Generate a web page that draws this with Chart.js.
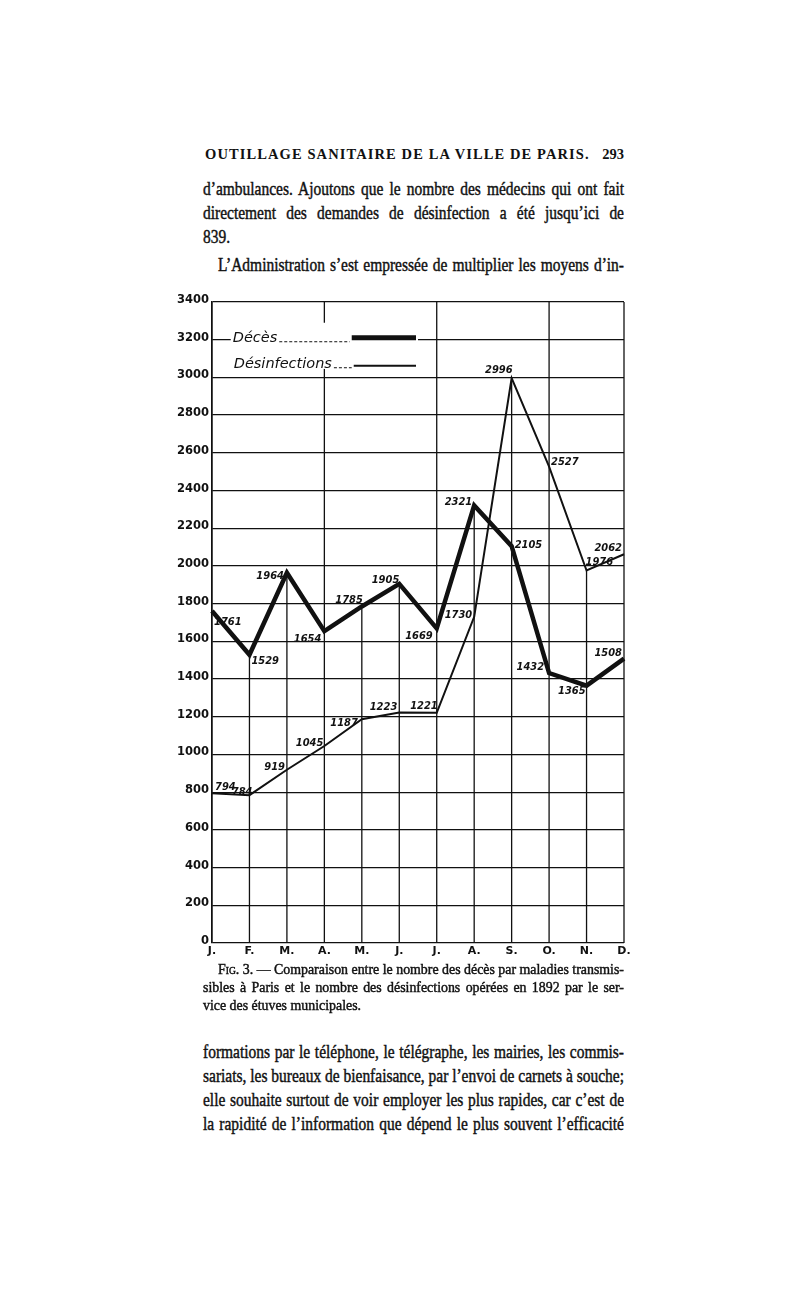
<!DOCTYPE html>
<html>
<head>
<meta charset="utf-8">
<script src="https://cdn.jsdelivr.net/npm/chart.js@4.4.0/dist/chart.umd.min.js"></script>
<style>
    body {
        margin: 0;
        background: #fff;
        width: 800px;
        height: 1304px;
        position: relative;
        overflow: hidden;
        color: #111;
    }
    .ln, .cap {
        position: absolute;
        left: 203px;
        font-family: "Liberation Serif", "DejaVu Serif", serif;
        white-space: nowrap;
        transform-origin: 0 0;
    }
    .ln {
        font-size: 19px;
        -webkit-text-stroke: 0.45px #111;
    }
    .cap {
        font-size: 14.5px;
        -webkit-text-stroke: 0.45px #111;
    }
    .head {
        position: absolute;
        top: 146px;
        left: 203px;
        width: 421px;
        font-family: "Liberation Serif", serif;
        font-weight: bold;
        font-size: 14.5px;
    }
    .head .t { position: absolute; left: 2px; letter-spacing: 1.1px; }
    .head .p { position: absolute; right: 0; }
    #chart-box {
        position: absolute;
        left: 150px;
        top: 290px;
        width: 490px;
        height: 680px;
    }
</style>
</head>
<body>
<div class="head"><span class="t">OUTILLAGE SANITAIRE DE LA VILLE DE PARIS.</span><span class="p">293</span></div>
<div class="ln" data-w="421" style="top:178px">d’ambulances. Ajoutons que le nombre des médecins qui ont fait</div>
<div class="ln" data-w="421" style="top:202px">directement des demandes de désinfection a été jusqu’ici de</div>
<div class="ln" data-last="1" style="top:226px">839.</div>
<div class="ln" data-w="406" style="top:254px; left:218px">L’Administration s’est empressée de multiplier les moyens d’in-</div>

<div id="chart-box"><canvas id="fig3" width="490" height="680"></canvas></div>

<div class="cap" data-w="406" style="top:961px; left:218px"><span style="font-variant:small-caps">Fig</span>. 3. — Comparaison entre le nombre des décès par maladies transmis-</div>
<div class="cap" data-w="421" style="top:979px">sibles à Paris et le nombre des désinfections opérées en 1892 par le ser-</div>
<div class="cap" data-last="1" style="top:997px">vice des étuves municipales.</div>

<div class="ln" data-w="421" style="top:1041px">formations par le téléphone, le télégraphe, les mairies, les commis-</div>
<div class="ln" data-w="421" style="top:1065px">sariats, les bureaux de bienfaisance, par l’envoi de carnets à souche;</div>
<div class="ln" data-w="421" style="top:1089px">elle souhaite surtout de voir employer les plus rapides, car c’est de</div>
<div class="ln" data-w="421" style="top:1113px">la rapidité de l’information que dépend le plus souvent l’efficacité</div>

<script>
// Months of 1892
const months = ['J.', 'F.', 'M.', 'A.', 'M.', 'J.', 'J.', 'A.', 'S.', 'O.', 'N.', 'D.'];

// Deaths from transmissible diseases (thick line)
const deces = [1761, 1529, 1964, 1654, 1785, 1905, 1669, 2321, 2105, 1432, 1365, 1508];

// Disinfections by the municipal stoves (thin line)
const desinfections = [794, 784, 919, 1045, 1187, 1223, 1221, 1730, 2996, 2527, 1976, 2062];

// Y axis range
const yMin = 0;
const yMax = 3400;
const yStep = 200;

// Where each value label sits relative to its point: [dx, dy, align]
const decesLabelPos = [
    [2, 11, 'left'], [2, 6, 'left'], [-3, 3, 'right'], [-3, 8, 'right'],
    [1, -6, 'right'], [0, -4, 'right'], [-4, 8, 'right'], [-2, -3, 'right'],
    [3, -1, 'left'], [-5, -6, 'right'], [-1, 5, 'right'], [-2, -6, 'right']
];
const desinfLabelPos = [
    [3, -6, 'left'], [3, -3, 'right'], [-2, -3, 'right'], [-1, -3, 'right'],
    [-4, 4, 'right'], [-2, -5, 'right'], [1, -7, 'right'], [-2, -2, 'right'],
    [1, -8, 'right'], [2, -4, 'left'], [-1, -8, 'left'], [-2, -6, 'right']
];

// Justify the page text: one common horizontal squeeze per class, then word spacing
function fitLines(selector) {
    const els = [...document.querySelectorAll(selector)];
    const nat = els.map(el => el.getBoundingClientRect().width);
    let k = 1;
    els.forEach((el, i) => {
        if (el.dataset.w) k = Math.min(k, el.dataset.w / nat[i]);
    });
    els.forEach((el, i) => {
        el.style.transform = `scaleX(${k})`;
        if (!el.dataset.w) return;
        const spaces = (el.textContent.match(/ /g) || []).length;
        if (spaces) el.style.wordSpacing = ((el.dataset.w / k - nat[i]) / spaces) + 'px';
    });
}
fitLines('.ln');
fitLines('.cap');

const INK = '#111';
const labelFont = 'italic bold 11px "DejaVu Sans Condensed", "Liberation Sans Narrow", "DejaVu Sans", sans-serif';

// Vertical rules: quarters run full height, the other months drop from the upper point
const verticalRules = {
    id: 'verticalRules',
    beforeDatasetsDraw(chart) {
        const { ctx, chartArea, scales } = chart;
        ctx.save();
        ctx.strokeStyle = INK;
        ctx.lineWidth = 1.3;
        months.forEach((m, i) => {
            const x = scales.x.getPixelForValue(i);
            let top = chartArea.top;
            if (i % 3 !== 0 && i !== months.length - 1) {
                top = scales.y.getPixelForValue(Math.max(deces[i], desinfections[i]));
            }
            ctx.beginPath();
            ctx.moveTo(x, top);
            ctx.lineTo(x, chartArea.bottom);
            ctx.stroke();
        });
        ctx.restore();
    }
};

// Hand-drawn style key in the top left cell
const keyBox = {
    id: 'keyBox',
    beforeDatasetsDraw(chart) {
        const { ctx, scales } = chart;
        const x0 = scales.x.getPixelForValue(0.5);
        const x1 = scales.x.getPixelForValue(5.5);
        const y0 = scales.y.getPixelForValue(3290);
        const y1 = scales.y.getPixelForValue(3045);
        ctx.save();
        ctx.fillStyle = '#fff';
        ctx.fillRect(x0, y0, x1 - x0, y1 - y0);

        ctx.fillStyle = INK;
        ctx.font = 'italic 14.5px "DejaVu Sans", sans-serif';
        ctx.textBaseline = 'alphabetic';
        ctx.textAlign = 'left';
        const r1 = y0 + 19;
        const r2 = y0 + 45;
        ctx.fillText('Décès', x0 + 2, r1);
        ctx.fillText('Désinfections', x0 + 3, r2);

        const wDec = ctx.measureText('Décès').width;
        const wDes = ctx.measureText('Désinfections').width;
        const barStart = x0 + 121;
        const barEnd = x1 - 2;

        // leaders
        ctx.strokeStyle = INK;
        ctx.lineWidth = 1;
        ctx.setLineDash([3, 2]);
        ctx.beginPath();
        ctx.moveTo(x0 + 4 + wDec, r1);
        ctx.lineTo(barStart - 2, r1);
        ctx.moveTo(x0 + 5 + wDes, r2);
        ctx.lineTo(barStart, r2);
        ctx.stroke();
        ctx.setLineDash([]);

        // samples
        ctx.lineWidth = 5;
        ctx.beginPath();
        ctx.moveTo(barStart, r1 - 4);
        ctx.lineTo(barEnd, r1 - 4);
        ctx.stroke();
        ctx.lineWidth = 2;
        ctx.beginPath();
        ctx.moveTo(barStart + 2, r2 - 2);
        ctx.lineTo(barEnd, r2 - 2);
        ctx.stroke();
        ctx.restore();
    }
};

// Value labels written beside each point
const valueLabels = {
    id: 'valueLabels',
    afterDatasetsDraw(chart) {
        const { ctx, scales } = chart;
        ctx.save();
        ctx.fillStyle = INK;
        ctx.font = labelFont;
        ctx.textBaseline = 'middle';
        const put = (values, pos) => {
            values.forEach((v, i) => {
                const x = scales.x.getPixelForValue(i);
                const y = scales.y.getPixelForValue(v);
                ctx.textAlign = pos[i][2];
                ctx.fillText(String(v), x + pos[i][0], y + pos[i][1]);
            });
        };
        put(deces, decesLabelPos);
        put(desinfections, desinfLabelPos);
        ctx.restore();
    }
};

const ctx = document.getElementById('fig3').getContext('2d');
new Chart(ctx, {
    type: 'line',
    data: {
        labels: months,
        datasets: [
            {
                label: 'Décès',
                data: deces,
                borderColor: INK,
                borderWidth: 4.5,
                pointRadius: 0,
                tension: 0,
                borderJoinStyle: 'miter',
                fill: false
            },
            {
                label: 'Désinfections',
                data: desinfections,
                borderColor: INK,
                borderWidth: 2,
                pointRadius: 0,
                tension: 0,
                fill: false
            }
        ]
    },
    options: {
        responsive: false,
        animation: false,
        devicePixelRatio: 1,
        layout: { padding: { top: 12, right: 16, left: 0, bottom: 7 } },
        plugins: {
            legend: { display: false },
            tooltip: { enabled: false }
        },
        scales: {
            x: {
                type: 'category',
                offset: false,
                grid: { display: false, drawTicks: false },
                border: { display: false },
                ticks: {
                    color: INK,
                    font: { family: '"DejaVu Sans", sans-serif', weight: 'bold', size: 11 },
                    padding: 2,
                    maxRotation: 0,
                    autoSkip: false
                },
                afterFit: (s) => { s.height = 20; }
            },
            y: {
                min: yMin,
                max: yMax,
                grid: { color: INK, lineWidth: 1.3, drawTicks: false },
                border: { display: true, color: INK, width: 1.3 },
                ticks: {
                    stepSize: yStep,
                    color: INK,
                    font: { family: '"DejaVu Sans", sans-serif', weight: 'bold', size: 11.5 },
                    padding: 3,
                    labelOffset: -2,
                    callback: (v) => String(v)
                },
                afterFit: (s) => { s.width = 62; }
            }
        }
    },
    plugins: [verticalRules, keyBox, valueLabels]
});
</script>
</body>
</html>
